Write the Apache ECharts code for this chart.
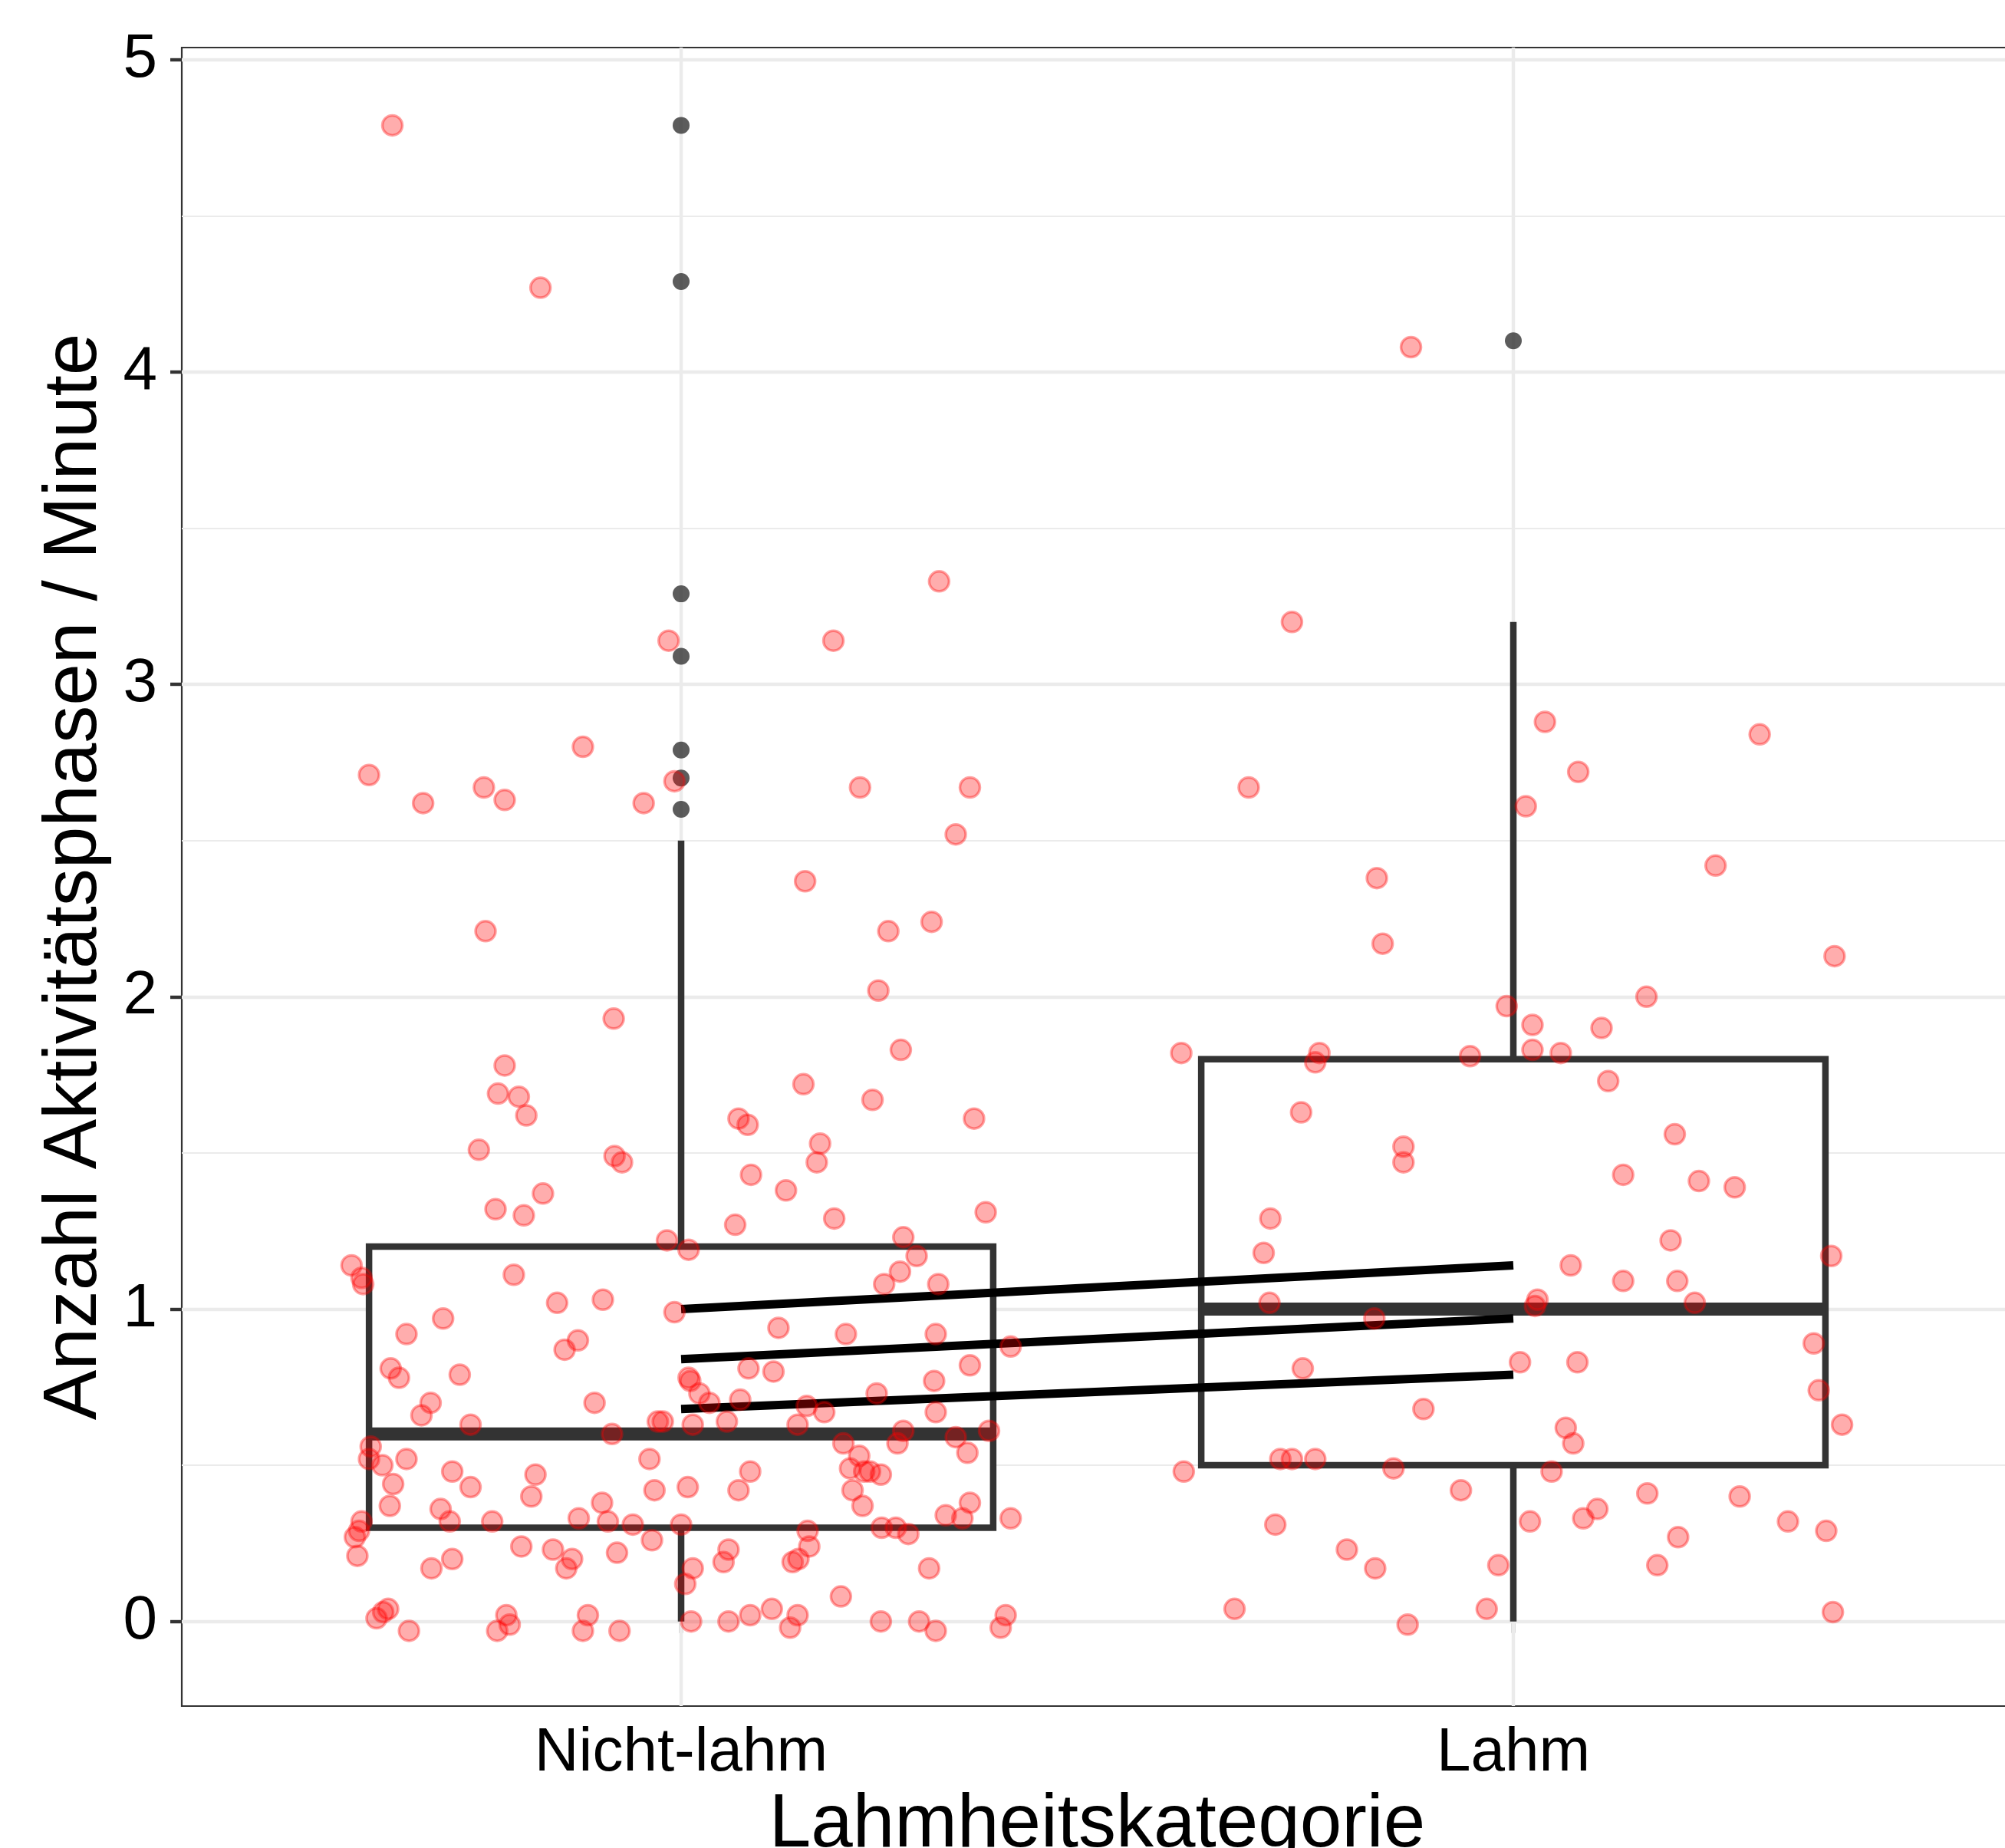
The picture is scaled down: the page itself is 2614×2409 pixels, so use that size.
<!DOCTYPE html>
<html>
<head>
<meta charset="utf-8">
<script src="https://cdn.jsdelivr.net/npm/echarts@6/dist/echarts.min.js"></script>
<style>
  html, body { margin: 0; padding: 0; background: #fff; }
  #chart { width: 2614px; height: 2409px; }
</style>
</head>
<body>
<div id="chart"></div>
<script>
// categories on the x axis (positions 1 and 2)
const categories = ['Nicht-lahm', 'Lahm'];
const yTicks = [0, 1, 2, 3, 4, 5];
const yMinorTicks = [0.5, 1.5, 2.5, 3.5, 4.5];

// box stats: [lower whisker, Q1, median, Q3, upper whisker]
const boxNichtLahm = [0, 0.3, 0.6, 1.2, 2.5];
const boxLahm = [0, 0.5, 1.0, 1.8, 3.2];

// outliers of the boxplot
const outliersNichtLahm = [2.6, 2.7, 2.79, 3.09, 3.29, 4.29, 4.79];
const outliersLahm = [4.1];

// three black lines from Nicht-lahm to Lahm: [value at 1, value at 2]
const trendLines = [[1.0, 1.14], [0.84, 0.97], [0.68, 0.79]];

// jittered points: [offset from category, value]
const jitterNichtLahm = [
  [-0.347, 4.79], [-0.169, 4.27], [-0.375, 2.71], [-0.310, 2.62], [-0.237, 2.67], [-0.212, 2.63],
  [-0.118, 2.80], [-0.045, 2.62], [-0.015, 3.14], [-0.008, 2.69], [0.310, 3.33], [0.183, 3.14],
  [0.215, 2.67], [0.347, 2.67], [0.330, 2.52], [0.149, 2.37], [-0.235, 2.21], [0.249, 2.21],
  [0.301, 2.24], [0.237, 2.02], [-0.081, 1.93], [0.264, 1.83], [-0.212, 1.78], [-0.220, 1.69],
  [-0.195, 1.68], [-0.186, 1.62], [0.147, 1.72], [0.230, 1.67], [0.069, 1.61], [0.080, 1.59],
  [0.352, 1.61], [0.167, 1.53], [0.163, 1.47], [-0.080, 1.49], [-0.071, 1.47], [-0.243, 1.51],
  [0.084, 1.43], [0.126, 1.38], [-0.166, 1.37], [-0.223, 1.32], [-0.189, 1.30], [0.065, 1.27],
  [0.184, 1.29], [0.366, 1.31], [0.267, 1.23], [-0.017, 1.22], [0.009, 1.19], [-0.396, 1.14],
  [-0.384, 1.10], [-0.382, 1.08], [-0.201, 1.11], [0.263, 1.12], [0.244, 1.08], [0.309, 1.08],
  [0.283, 1.17], [-0.149, 1.02], [-0.094, 1.03], [-0.286, 0.97], [-0.008, 0.99], [-0.330, 0.92],
  [-0.124, 0.90], [-0.140, 0.87], [0.117, 0.94], [0.198, 0.92], [0.306, 0.92], [0.396, 0.88],
  [-0.349, 0.81], [-0.339, 0.78], [-0.266, 0.79], [0.009, 0.78], [0.011, 0.77], [0.081, 0.81],
  [0.111, 0.80], [0.347, 0.82], [0.304, 0.77], [-0.301, 0.70], [-0.312, 0.66], [-0.104, 0.70],
  [0.022, 0.73], [0.034, 0.70], [0.071, 0.71], [0.151, 0.69], [0.172, 0.67], [0.235, 0.73],
  [0.306, 0.67], [-0.028, 0.64], [-0.022, 0.64], [0.014, 0.63], [0.055, 0.64], [0.140, 0.63],
  [-0.253, 0.63], [-0.083, 0.60], [0.267, 0.61], [0.260, 0.57], [0.330, 0.59], [0.370, 0.61],
  [-0.373, 0.56], [-0.375, 0.52], [-0.330, 0.52], [-0.359, 0.50], [-0.275, 0.48], [-0.038, 0.52],
  [0.195, 0.57], [0.214, 0.53], [0.203, 0.49], [0.220, 0.48], [0.227, 0.48], [0.240, 0.47],
  [0.083, 0.48], [-0.175, 0.47], [0.344, 0.54], [-0.346, 0.44], [-0.253, 0.43], [-0.032, 0.42],
  [0.008, 0.43], [0.069, 0.42], [0.206, 0.42], [-0.180, 0.40], [-0.095, 0.38], [-0.350, 0.37],
  [-0.289, 0.36], [0.218, 0.37], [0.347, 0.38], [-0.384, 0.32], [-0.387, 0.29], [-0.278, 0.32],
  [-0.227, 0.32], [-0.123, 0.33], [-0.088, 0.32], [-0.058, 0.31], [0.000, 0.31], [0.241, 0.30],
  [0.258, 0.30], [0.273, 0.28], [0.318, 0.34], [0.338, 0.33], [0.396, 0.33], [0.152, 0.29],
  [-0.392, 0.27], [-0.389, 0.21], [-0.192, 0.24], [-0.154, 0.23], [-0.131, 0.20], [-0.138, 0.17],
  [-0.077, 0.22], [-0.035, 0.26], [0.057, 0.23], [0.154, 0.24], [-0.275, 0.20], [-0.300, 0.17],
  [0.051, 0.19], [0.134, 0.19], [0.141, 0.20], [0.014, 0.17], [0.298, 0.17], [0.005, 0.12],
  [0.192, 0.08], [0.109, 0.04], [-0.358, 0.03], [-0.352, 0.04], [-0.366, 0.01], [-0.210, 0.02],
  [-0.112, 0.02], [0.083, 0.02], [0.140, 0.02], [0.390, 0.02], [-0.206, -0.01], [-0.327, -0.03],
  [-0.221, -0.03], [-0.118, -0.03], [-0.074, -0.03], [0.012, 0.00], [0.057, 0.00], [0.131, -0.02],
  [0.240, 0.00], [0.286, 0.00], [0.306, -0.03], [0.384, -0.02]
];
const jitterLahm = [
  [-0.123, 4.08], [-0.266, 3.20], [-0.318, 2.67], [0.296, 2.84], [0.038, 2.88], [0.078, 2.72],
  [0.015, 2.61], [0.243, 2.42], [-0.164, 2.38], [-0.157, 2.17], [0.386, 2.13], [0.160, 2.00],
  [-0.008, 1.97], [0.023, 1.91], [0.106, 1.90], [-0.399, 1.82], [-0.233, 1.82], [-0.238, 1.79],
  [-0.052, 1.81], [0.023, 1.83], [0.057, 1.82], [0.114, 1.73], [-0.255, 1.63], [0.194, 1.56],
  [-0.132, 1.52], [-0.132, 1.47], [0.132, 1.43], [0.223, 1.41], [0.266, 1.39], [-0.292, 1.29],
  [-0.300, 1.18], [0.189, 1.22], [0.382, 1.17], [0.069, 1.14], [0.132, 1.09], [0.197, 1.09],
  [-0.293, 1.02], [0.218, 1.02], [0.029, 1.03], [0.026, 1.01], [-0.167, 0.97], [0.361, 0.89],
  [0.008, 0.83], [0.077, 0.83], [-0.253, 0.81], [0.367, 0.74], [-0.108, 0.68], [0.395, 0.63],
  [0.063, 0.62], [0.072, 0.57], [-0.280, 0.52], [-0.266, 0.52], [-0.238, 0.52], [-0.396, 0.48],
  [-0.144, 0.49], [0.046, 0.48], [-0.063, 0.42], [0.161, 0.41], [0.272, 0.40], [0.101, 0.36],
  [0.084, 0.33], [-0.286, 0.31], [0.020, 0.32], [0.330, 0.32], [0.376, 0.29], [0.198, 0.27],
  [-0.200, 0.23], [-0.166, 0.17], [-0.018, 0.18], [0.173, 0.18], [-0.335, 0.04], [-0.032, 0.04],
  [0.384, 0.03], [-0.127, -0.01]
];

const boxHalfWidth = 0.375;
const fontFamily = '"Liberation Sans", Arial, Helvetica, sans-serif';

var chart = echarts.init(document.getElementById('chart'));

// build series data from the arrays above
const boxData = [[1].concat(boxNichtLahm), [2].concat(boxLahm)];
const outlierData = outliersNichtLahm.map(v => [1, v]).concat(outliersLahm.map(v => [2, v]));
const jitterData = jitterNichtLahm.map(p => [1 + p[0], p[1]])
  .concat(jitterLahm.map(p => [2 + p[0], p[1]]));

// panel grid lines (drawn underneath everything)
const gridMarks = [];
yMinorTicks.forEach(v => gridMarks.push({ yAxis: v, lineStyle: { width: 2.2 } }));
yTicks.forEach(v => gridMarks.push({ yAxis: v, lineStyle: { width: 4.4 } }));
[1, 2].forEach(v => gridMarks.push({ xAxis: v, lineStyle: { width: 4.4 } }));

const lineSeries = trendLines.map(t => ({
  type: 'line',
  data: [[1, t[0]], [2, t[1]]],
  symbol: 'none',
  lineStyle: { color: '#000', width: 11, cap: 'butt' },
  silent: true,
  z: 4
}));

var option = {
  backgroundColor: '#ffffff',
  animation: false,
  grid: {
    left: 237,
    right: -10,
    top: 62,
    bottom: 185,
    outerBoundsMode: 'none',
    containLabel: false,
    show: true,
    borderColor: '#333333',
    borderWidth: 2.2,
    backgroundColor: 'transparent'
  },
  xAxis: {
    type: 'value',
    min: 0.4,
    max: 2.6,
    name: 'Lahmheitskategorie',
    nameLocation: 'middle',
    nameGap: 91,
    nameTextStyle: { fontFamily: fontFamily, fontSize: 98, color: '#000' },
    axisLine: { show: false },
    axisTick: { show: true, length: 15, customValues: [1, 2], lineStyle: { color: '#333', width: 4.4 } },
    axisLabel: {
      customValues: [1, 2],
      formatter: v => categories[Math.round(v) - 1] || '',
      fontFamily: fontFamily,
      fontSize: 80,
      color: '#000',
      margin: 22
    },
    splitLine: { show: false }
  },
  yAxis: {
    type: 'value',
    min: -0.271,
    max: 5.039,
    name: 'Anzahl Aktivitätsphasen / Minute',
    nameLocation: 'middle',
    nameRotate: 90,
    nameGap: 90,
    nameTextStyle: { fontFamily: fontFamily, fontSize: 98, color: '#000' },
    axisLine: { show: false },
    axisTick: { show: true, length: 15, customValues: yTicks, lineStyle: { color: '#333', width: 4.4 } },
    axisLabel: {
      customValues: yTicks,
      fontFamily: fontFamily,
      fontSize: 80,
      color: '#000',
      margin: 32
    },
    splitLine: { show: false }
  },
  series: [
    {
      type: 'line',
      data: [],
      silent: true,
      z: 1,
      markLine: {
        z: 1,
        silent: true,
        symbol: ['none', 'none'],
        label: { show: false },
        lineStyle: { color: '#EBEBEB', type: 'solid' },
        data: gridMarks
      }
    },
    {
      // boxes with whiskers
      type: 'custom',
      data: boxData,
      z: 3,
      silent: true,
      renderItem: function (params, api) {
        var x = api.value(0);
        var lo = api.value(1), q1 = api.value(2), med = api.value(3), q3 = api.value(4), hi = api.value(5);
        var tl = api.coord([x - boxHalfWidth, q3]);
        var br = api.coord([x + boxHalfWidth, q1]);
        var c = '#333333';
        var whiskerTop = [api.coord([x, hi]), api.coord([x, q3])];
        var whiskerBot = [api.coord([x, q1]), api.coord([x, lo])];
        var mL = api.coord([x - boxHalfWidth, med]);
        var mR = api.coord([x + boxHalfWidth, med]);
        return {
          type: 'group',
          children: [
            { type: 'line', shape: { x1: whiskerTop[0][0], y1: whiskerTop[0][1], x2: whiskerTop[1][0], y2: whiskerTop[1][1] }, style: { stroke: c, lineWidth: 8.5 } },
            { type: 'line', shape: { x1: whiskerBot[0][0], y1: whiskerBot[0][1], x2: whiskerBot[1][0], y2: whiskerBot[1][1] }, style: { stroke: c, lineWidth: 8.5 } },
            { type: 'rect', shape: { x: tl[0], y: tl[1], width: br[0] - tl[0], height: br[1] - tl[1] }, style: { fill: '#ffffff', stroke: c, lineWidth: 8.5 } },
            { type: 'line', shape: { x1: mL[0], y1: mL[1], x2: mR[0], y2: mR[1] }, style: { stroke: c, lineWidth: 17 } }
          ]
        };
      }
    },
    {
      type: 'scatter',
      data: outlierData,
      symbol: 'circle',
      symbolSize: 22,
      itemStyle: { color: '#333333' },
      silent: true,
      z: 3
    }
  ].concat(lineSeries).concat([
    {
      type: 'scatter',
      data: jitterData,
      symbol: 'circle',
      symbolSize: 26,
      itemStyle: {
        color: 'rgba(255,0,0,0.4)',
        borderColor: 'rgba(255,0,0,0.45)',
        borderWidth: 3.5
      },
      silent: true,
      z: 5
    }
  ])
};
chart.setOption(option);
</script>
</body>
</html>
